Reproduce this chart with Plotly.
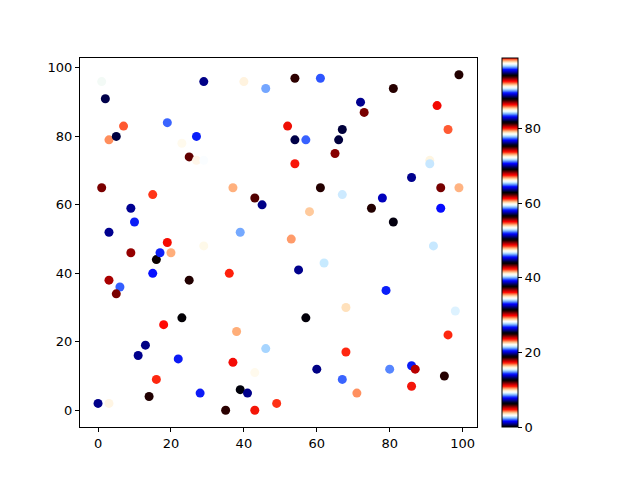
import numpy as np
import plotly.graph_objects as go

# point positions
x_vals = [0, 2, 3, 3, 1, 3, 3, 5, 6, 5, 7, 9, 9, 10, 11, 13, 14, 15, 15, 16,
          17, 16, 18, 19, 20, 19, 22, 23, 23, 25, 25, 27, 27, 28, 29, 29, 35, 36, 37, 37,
          38, 39, 39, 40, 41, 43, 43, 43, 45, 46, 46, 49, 52, 53, 54, 54, 54, 55, 57, 58,
          60, 61, 57, 61, 62, 65, 66, 67, 67, 67, 68, 68, 71, 72, 73, 75, 78, 79, 80, 81,
          81, 86, 86, 87, 86, 91, 91, 92, 93, 94, 94, 95, 96, 96, 98, 99, 99, 1, 29]
y_vals = [2, 91, 79, 2, 65, 52, 38, 80, 36, 34, 83, 59, 46, 55, 16, 19, 4, 63, 40, 44,
          46, 9, 25, 49, 46, 84, 15, 27, 78, 74, 38, 73, 80, 5, 96, 48, 0, 40, 65, 14,
          23, 52, 6, 96, 5, 11, 62, 0, 60, 94, 18, 2, 83, 50, 97, 79, 72, 41, 27, 58,
          12, 97, 79, 65, 43, 75, 79, 82, 63, 9, 30, 17, 5, 90, 87, 59, 62, 35, 12, 94,
          55, 68, 13, 12, 7, 73, 72, 48, 89, 65, 59, 10, 82, 22, 29, 98, 65, 96, 73]
# colour values (estimated from the flag_r colormap)
c_vals = [19.7, 44.5, 10.4, 66.2, 18.1, 76.3, 36.7, 88.45, 1.95, 62.1, 29.5, 38.6, 87.1, 51.9, 70.0, 7.1, 24.9, 48.5, 64.5, 37.6,
          14.2, 80.0, 61.3, 4.75, 91.95, 39.7, 83.3, 25.2, 53.6, 74.8, 12.3, 97.6, 20.5, 45.6, 57.4, 15.9, 81.4, 42.3, 66.8, 86.5,
          29.1, 2.3, 69.2, 34.8, 88.85, 53.6, 24.6, 11.0, 57.4, 46.3, 78.0, 17.1, 42.5, 66.9, 31.1, 82.2, 55.0, 70.0, 88.1, 35.2,
          95.1, 8.2, 77.4, 50.0, 65.6, 30.6, 13.0, 50.7, 84.5, 39.7, 3.6, 73.7, 92.1, 32.3, 62.1, 12.3, 95.4, 20.5, 65.0, 43.7,
          75.5, 26.0, 51.9, 86.9, 17.3, 72.5, 46.75, 90.75, 36.2, 68.4, 1.6, 62.6, 23.2, 80.0, 40.6, 12.3, 54.2, 84.85, 28.3]


def flag_r_scale(n=256):
    # matplotlib "flag" colormap, reversed
    scale = []
    for i in range(n):
        v = 1 - i / (n - 1)
        r = np.clip(0.75 * np.sin((v * 31.5 + 0.25) * np.pi) + 0.5, 0, 1)
        g = np.clip(np.sin(v * 31.5 * np.pi), 0, 1)
        b = np.clip(0.75 * np.sin((v * 31.5 - 0.25) * np.pi) + 0.5, 0, 1)
        scale.append([i / (n - 1), "rgb(%d,%d,%d)" % (r * 255, g * 255, b * 255)])
    return scale


fig = go.Figure()
fig.add_trace(go.Scatter(
    x=x_vals, y=y_vals, mode="markers",
    marker=dict(
        size=9, color=c_vals, colorscale=flag_r_scale(), cmin=0, cmax=99,
        line=dict(width=0),
        showscale=True,
        colorbar=dict(
            x=1.063, xanchor="left", y=0.5, yanchor="middle", len=1,
            thickness=16, xpad=0, ypad=0,
            outlinewidth=1, outlinecolor="black",
            tickvals=[0, 20, 40, 60, 80], ticks="outside", ticklen=4,
            tickcolor="black", tickfont=dict(size=13, color="black"),
        ),
    ),
    showlegend=False,
))

axis = dict(showgrid=False, zeroline=False, showline=True, linecolor="black",
            linewidth=1, mirror=True, ticks="outside", ticklen=4, tickcolor="black",
            tickfont=dict(size=13, color="black"), tickvals=[0, 20, 40, 60, 80, 100])
fig.update_xaxes(range=[-4.95, 103.95], **axis)
fig.update_yaxes(range=[-4.9, 102.9], **axis)
# the page body adds 8px, so margins are pulled in to keep the plot in place
fig.update_layout(
    width=640, height=480, plot_bgcolor="white", paper_bgcolor="white",
    margin=dict(l=72, r=171, t=50, b=61),
    font=dict(family="DejaVu Sans"),
)

fig.write_html("out.html")
